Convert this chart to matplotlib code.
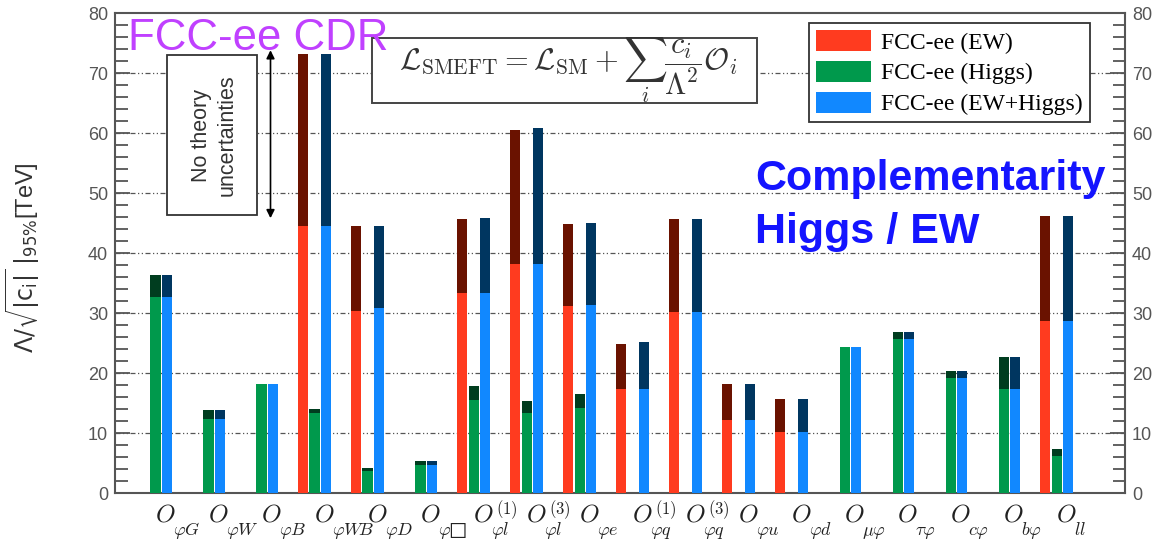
import matplotlib
matplotlib.use("Agg")
import matplotlib.pyplot as plt
from matplotlib.patches import Patch, Rectangle
from matplotlib.ticker import MultipleLocator
import numpy as np

plt.rcParams["font.family"] = ["Liberation Sans", "DejaVu Sans"]
plt.rcParams["mathtext.fontset"] = "cm"

W, H = 1155, 542

# operators (subscript / superscript of each O)
subs = [r"\varphi G", r"\varphi W", r"\varphi B", r"\varphi W\!B", r"\varphi D",
        "\\varphi\u25a1", r"\varphi l", r"\varphi l", r"\varphi e",
        r"\varphi q", r"\varphi q", r"\varphi u", r"\varphi d",
        r"\mu\varphi", r"\tau\varphi", r"c\varphi", r"b\varphi", r"ll"]
sups = ["", "", "", "", "", "", "(1)", "(3)", "", "(1)", "(3)", "", "", "", "", "", "", ""]

# with theory uncertainties (light) / without (dark top)
ew_lo = [0, 0, 0, 44.5, 30.4, 0, 33.3, 38.1, 31.2, 17.4, 30.1, 12.2, 10.2, 0, 0, 0, 0, 28.6]
ew_hi = [0, 0, 0, 73.1, 44.5, 0, 45.6, 60.5, 44.8, 24.9, 45.6, 18.1, 15.7, 0, 0, 0, 0, 46.2]
higgs_lo = [32.7, 12.3, 18.1, 13.4, 3.6, 4.7, 15.5, 13.4, 14.1, 0, 0, 0, 0, 24.3, 25.7, 19.1, 17.4, 6.1]
higgs_hi = [36.3, 13.9, 18.1, 14.0, 4.2, 5.4, 17.8, 15.4, 16.5, 0, 0, 0, 0, 24.3, 26.9, 20.3, 22.7, 7.3]
comb_lo = [32.7, 12.3, 18.1, 44.5, 30.9, 4.7, 33.4, 38.1, 31.4, 17.4, 30.1, 12.2, 10.2, 24.3, 25.7, 19.1, 17.4, 28.6]
comb_hi = [36.3, 13.9, 18.1, 73.1, 44.5, 5.4, 45.9, 60.9, 45.05, 25.2, 45.6, 18.1, 15.7, 24.3, 26.9, 20.3, 22.7, 46.2]

labels = ["FCC-ee (EW)", "FCC-ee (Higgs)", "FCC-ee (EW+Higgs)"]
light = ["#ff3b1f", "#00994c", "#1188ff"]
dark = ["#6a1200", "#003d1f", "#003660"]


def fx(px):
    return px / W


def fy(py):
    return 1 - py / H


fig = plt.figure(figsize=(W / 100, H / 100), dpi=100)
ax = fig.add_axes([fx(115), fy(493), fx(1125) - fx(115), fy(13) - fy(493)])

x = np.arange(len(subs))
bw = 0.19
series = [(ew_lo, ew_hi), (higgs_lo, higgs_hi), (comb_lo, comb_hi)]
for k, (lo, hi) in enumerate(series):
    off = (k - 1) * 0.217
    lo = np.array(lo)
    hi = np.array(hi)
    ax.bar(x + off, lo, bw, color=light[k], zorder=3)
    ax.bar(x + off, hi - lo, bw, bottom=lo, color=dark[k], zorder=3)

ax.set_xlim(-0.764, 18.29)
ax.set_ylim(0, 80)
ax.set_xticks([])
ax.yaxis.set_major_locator(MultipleLocator(10))
ax.yaxis.set_minor_locator(MultipleLocator(2))
ax.tick_params(axis="y", which="both", direction="in", left=True, right=True,
               labelleft=True, labelright=True, colors="#555555", labelsize=13,
               width=1.3)
ax.tick_params(axis="y", which="major", length=11, pad=5)
ax.tick_params(axis="y", which="minor", length=9)
for s in ax.spines.values():
    s.set_color("#555555")
    s.set_linewidth(1.5)

for g in range(10, 80, 10):
    ax.axhline(g, color="#555555", lw=0.9, ls=(0, (4, 2, 1, 2, 1, 2)), zorder=1)

ylab = ax.set_ylabel(r"$\Lambda/\sqrt{|\mathrm{c_i}|}\;|_{95\%}$[TeV]", fontsize=17,
                     color="#333333")
ylab.set_math_fontfamily("dejavusans")
ax.yaxis.set_label_coords(-0.072, 0.49)

# x labels: O with sub/superscripts placed by hand
for i in range(len(subs)):
    ax.text(i - 0.01, -4.7, "$O$", fontsize=18, ha="left", va="baseline",
            clip_on=False, color="#222222")
    ax.text(i + 0.33, -7.0, "$" + subs[i] + "$", fontsize=13, ha="left",
            va="baseline", clip_on=False, color="#222222")
    if sups[i]:
        ax.text(i + 0.42, -3.6, "$\\mathit{" + sups[i] + "}$", fontsize=12,
                ha="left", va="baseline", clip_on=False, color="#222222")

# legend
handles = [Patch(facecolor=c, edgecolor="none") for c in light]
leg = ax.legend(handles, labels, loc="upper right",
                bbox_to_anchor=(fx(1090), fy(23)), bbox_transform=fig.transFigure,
                prop={"family": "Liberation Serif", "size": 17}, fancybox=False,
                framealpha=1, edgecolor="#333333", handlelength=2.3,
                handleheight=1.0, labelspacing=0.3, borderpad=0.3,
                handletextpad=0.45, borderaxespad=0)
leg.get_frame().set_linewidth(1.3)
leg.set_zorder(6)

# formula box
fig.patches.append(Rectangle((fx(372), fy(103)), fx(757) - fx(372), fy(38) - fy(103),
                             transform=fig.transFigure, facecolor="white",
                             edgecolor="#444444", lw=1.4, zorder=4))
fig.text(fx(568), fy(70),
         r"$\mathcal{L}_{\mathrm{SMEFT}} = \mathcal{L}_{\mathrm{SM}} + \sum_i \dfrac{c_i}{\Lambda^2}\mathcal{O}_i$",
         fontsize=22, ha="center", va="center", color="#333333", zorder=5)

# no theory uncertainties box
fig.patches.append(Rectangle((fx(167), fy(215)), fx(257) - fx(167), fy(55) - fy(215),
                             transform=fig.transFigure, facecolor="white",
                             edgecolor="#333333", lw=1.3, zorder=4))
fig.text(fx(214), fy(135), "No theory\nuncertainties", rotation=90, fontsize=15.5,
         ha="center", va="center", color="#333333", zorder=5, linespacing=1.3)
ax.annotate("", xy=(fx(270.5), 73.8), xytext=(fx(270.5), 45.8),
            xycoords=("figure fraction", "data"), textcoords=("figure fraction", "data"),
            arrowprops=dict(arrowstyle="<|-|>", color="black", lw=1.2,
                            mutation_scale=12, shrinkA=0, shrinkB=0))

fig.text(fx(128), fy(50), "FCC-ee CDR", fontsize=31.5, color="#c040ff",
         ha="left", va="baseline", zorder=7)
fig.text(fx(755), fy(190), "Complementarity", fontsize=31, color="#1414ff",
         fontweight="bold", ha="left", va="baseline", zorder=7)
fig.text(fx(755), fy(243), "Higgs / EW", fontsize=31, color="#1414ff",
         fontweight="bold", ha="left", va="baseline", zorder=7)

fig.savefig("out.png", dpi=100)
